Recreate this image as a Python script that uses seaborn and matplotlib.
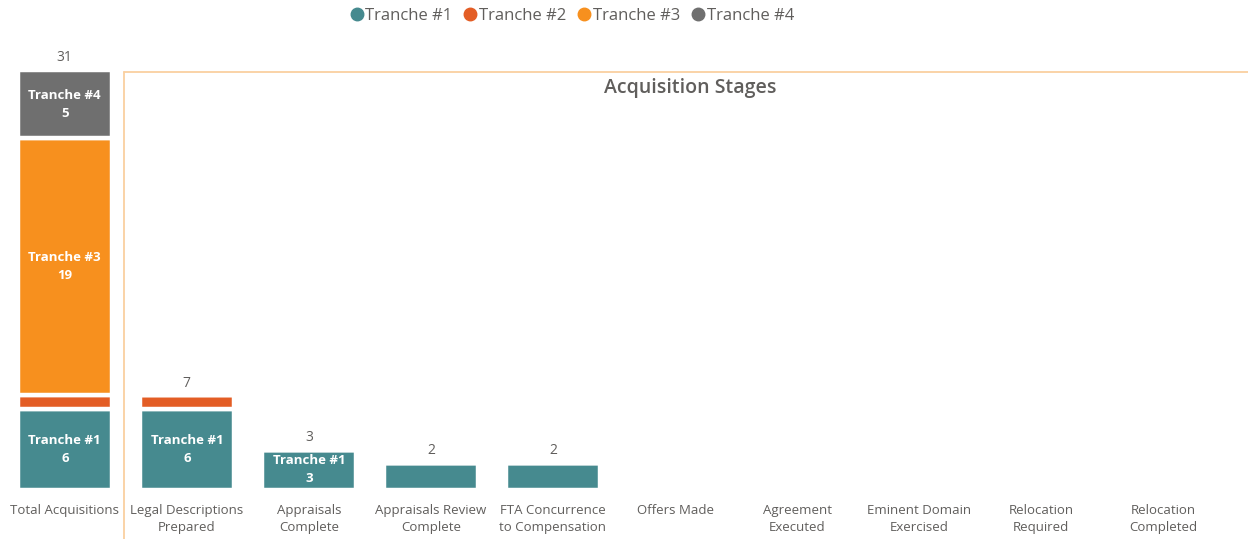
import matplotlib
matplotlib.use("Agg")
import matplotlib.pyplot as plt
from matplotlib.lines import Line2D
import seaborn as sns
import numpy as np

# data
categories = ["Total Acquisitions", "Legal Descriptions\nPrepared", "Appraisals\nComplete",
              "Appraisals Review\nComplete", "FTA Concurrence\nto Compensation", "Offers Made",
              "Agreement\nExecuted", "Eminent Domain\nExercised", "Relocation\nRequired",
              "Relocation\nCompleted"]
tranche1 = [6, 6, 3, 2, 2, 0, 0, 0, 0, 0]
tranche2 = [1, 1, 0, 0, 0, 0, 0, 0, 0, 0]
tranche3 = [19, 0, 0, 0, 0, 0, 0, 0, 0, 0]
tranche4 = [5, 0, 0, 0, 0, 0, 0, 0, 0, 0]
series_names = ["Tranche #1", "Tranche #2", "Tranche #3", "Tranche #4"]
colors = ["#468A8F", "#E35D25", "#F7901E", "#6F6F6F"]

sns.set_style("white")
plt.rcParams["font.family"] = ["Open Sans", "DejaVu Sans"]
txt_gray = "#605E5C"

fig = plt.figure(figsize=(12.48, 5.39), dpi=100)
ax = fig.add_axes([0.003, 0.0905, 0.978, 0.862])

series = [tranche1, tranche2, tranche3, tranche4]
bottom = np.zeros(len(categories))
for name, vals, c in zip(series_names, series, colors):
    vals = np.array(vals, dtype=float)
    sns.barplot(x=list(range(len(categories))), y=vals, color=c, saturation=1,
                width=0.77, bottom=bottom, edgecolor="white", linewidth=3.2, ax=ax)
    # inside labels for segments large enough
    for i, v in enumerate(vals):
        if v >= 3:
            ax.text(i, bottom[i] + v / 2, f"{name}\n{int(v)}", ha="center", va="center",
                    color="white", fontsize=9.5, fontweight="bold", linespacing=1.5)
    bottom = bottom + vals

totals = bottom
for i, t in enumerate(totals):
    if t > 0:
        ax.annotate(f"{int(t)}", (i, t), xytext=(0, 3.5), textcoords="offset points",
                    ha="center", va="bottom", fontsize=10, color=txt_gray)

ax.set_xlim(-0.5, len(categories) - 0.5)
ax.set_ylim(0, 34.3)
ax.set_xticks(range(len(categories)))
ax.set_xticklabels(categories, fontsize=9.5, color=txt_gray, linespacing=1.4)
ax.tick_params(axis="x", length=0, pad=10)
ax.set_yticks([])
ax.set_xlabel("")
ax.set_ylabel("")
sns.despine(ax=ax, left=True, bottom=True)

# orange frame around the stages panel
frame_c = "#FAD0A0"
x0, y0 = 124 / 1248, 1 - 72 / 539
fig.add_artist(Line2D([x0, x0], [0, y0], color=frame_c, lw=1.3, transform=fig.transFigure))
fig.add_artist(Line2D([x0, 1], [y0, y0], color=frame_c, lw=1.3, transform=fig.transFigure))
fig.text(690 / 1248, 1 - 88 / 539, "Acquisition Stages", ha="center", va="center",
         fontsize=14, fontweight="semibold", color=txt_gray)

handles = [Line2D([], [], marker="o", linestyle="", color=c, markersize=9) for c in colors]
fig.legend(handles, series_names, loc="center", bbox_to_anchor=(0.457, 1 - 16 / 539),
           ncol=4, frameon=False, fontsize=12, handletextpad=-0.1, columnspacing=0.5,
           handlelength=1.2, labelcolor=txt_gray)

fig.savefig("out.png", dpi=100)
